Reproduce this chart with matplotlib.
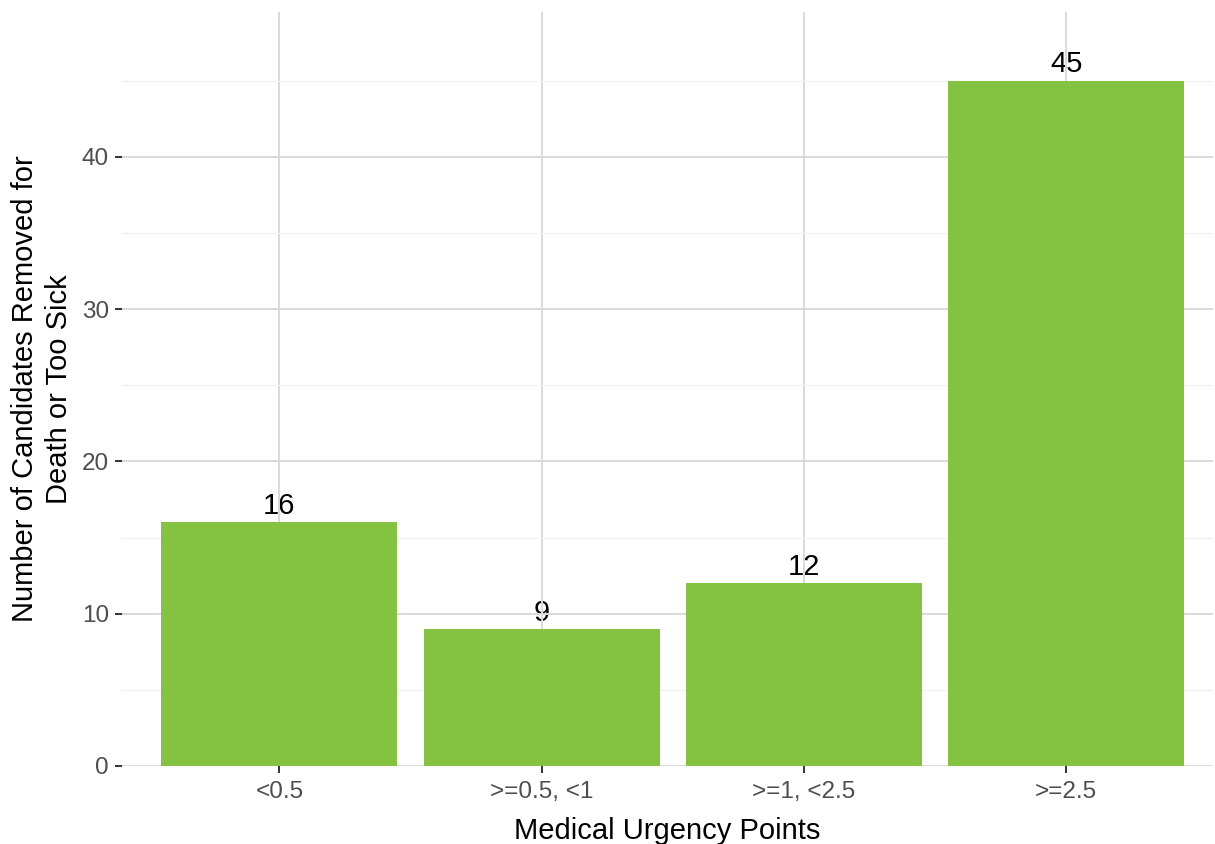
import matplotlib
matplotlib.use("Agg")
import matplotlib.pyplot as plt
from matplotlib.ticker import MultipleLocator

plt.rcParams['font.family'] = ['Liberation Sans', 'DejaVu Sans']

categories = ["<0.5", ">=0.5, <1", ">=1, <2.5", ">=2.5"]
counts = [16, 9, 12, 45]

W, H = 1215, 844
fig = plt.figure(figsize=(W / 100, H / 100), dpi=100)
ax = fig.add_axes([122 / W, (H - 766) / H, (1213 - 122) / W, (766 - 12) / H])

x = list(range(1, len(categories) + 1))
ax.bar(x, counts, width=0.9, color="#83c341", zorder=3)
for xi, c in zip(x, counts):
    ax.annotate(str(c), (xi, c), xytext=(0, 5.8), textcoords="offset points",
                ha="center", va="baseline", fontsize=21, color="black", zorder=2)

ax.set_xlim(0.4, 4.56)
ax.set_ylim(0, 49.5)
ax.set_xticks(x)
ax.set_xticklabels(categories)
ax.yaxis.set_major_locator(MultipleLocator(10))
ax.yaxis.set_minor_locator(MultipleLocator(5))

ax.grid(which="major", color="#d9d9d9", linewidth=1.4, zorder=2.5)
ax.grid(which="minor", axis="y", color="#f0f0f0", linewidth=0.9, zorder=1)
ax.set_axisbelow(False)
for s in ax.spines.values():
    s.set_visible(False)

ax.tick_params(axis="both", which="major", length=5, width=1.4, color="#333333",
               labelcolor="#4d4d4d", labelsize=17.5)
ax.tick_params(axis="x", which="major", pad=6)
ax.tick_params(axis="y", which="major", pad=4.5)
ax.tick_params(axis="both", which="minor", length=0)

ax.set_xlabel("Medical Urgency Points", fontsize=21, labelpad=10)
ax.set_ylabel("Number of Candidates Removed for\nDeath or Too Sick", fontsize=21, labelpad=6.5,
              linespacing=1.25)

fig.savefig("out.png", dpi=100)
